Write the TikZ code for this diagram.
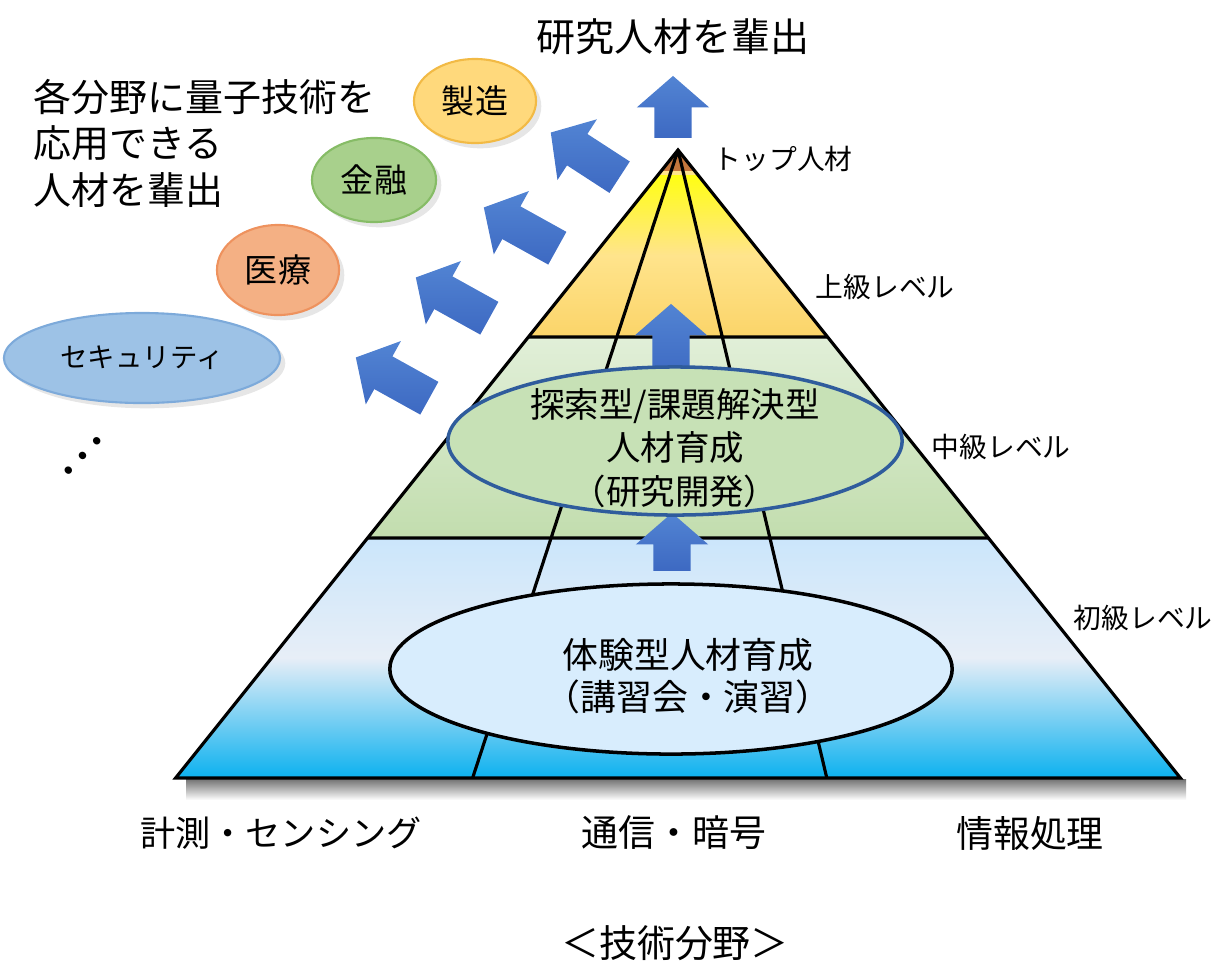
\documentclass[tikz,border=0pt]{standalone}
\usepackage{fontspec}
\setmainfont{Noto Sans CJK JP}
\usepackage{tikz}
\usetikzlibrary{
    shapes.geometric,
    shapes.arrows,
    shadows
}
\definecolor{arrowlight}{HTML}{5284D3}
\definecolor{arrowdark}{HTML}{3D69C2}
\definecolor{topbrown}{HTML}{C4763C}
\definecolor{upperyellow}{HTML}{FFFF10}
\definecolor{uppermid}{HTML}{FFE48C}
\definecolor{upperorange}{HTML}{FBD469}
\definecolor{midtop}{HTML}{E1EFD8}
\definecolor{midbottom}{HTML}{C2DDAE}
\definecolor{lowtop}{HTML}{CBE6FB}
\definecolor{lowmid}{HTML}{E7EEF7}
\definecolor{lowbottom}{HTML}{0CB1EF}
\definecolor{ellgreen}{HTML}{C7E1B6}
\definecolor{ellborder}{HTML}{2F5C9C}
\definecolor{ellblue}{HTML}{D8EDFD}
\definecolor{makefill}{HTML}{FFD97C}
\definecolor{makeline}{HTML}{F2BA45}
\definecolor{finfill}{HTML}{A8D08C}
\definecolor{finline}{HTML}{86BC66}
\definecolor{medfill}{HTML}{F4B084}
\definecolor{medline}{HTML}{EE925E}
\definecolor{secfill}{HTML}{9DC2E6}
\definecolor{secline}{HTML}{7DAADA}
\tikzset{
    edge/.style = {
        line width=0.9pt,
        black
    },
    bluearrow/.style = {
        single arrow,
        anchor=tip,
        top color=arrowlight,
        bottom color=arrowdark,
        draw=none,
        inner xsep=0pt,
        inner ysep=0.18cm,
        single arrow head extend=0.175cm,
        single arrow tip angle=98
    },
    fieldbox/.style = {
        ellipse,
        inner sep=0pt,
        line width=0.6pt,
        font=\fontsize{9.4pt}{11pt}\selectfont,
        drop shadow={shadow xshift=1.5pt, shadow yshift=-1.5pt, opacity=0.2}
    },
    levelell/.style = {
        ellipse,
        inner sep=0pt,
        line width=1pt
    },
    leveltext/.style = {
        align=center,
        inner sep=0pt,
        font=\fontsize{9.8pt}{12.3pt}\selectfont
    },
    levellabel/.style = {
        anchor=west,
        inner sep=0pt,
        font=\fontsize{7.9pt}{9pt}\selectfont
    },
    techlabel/.style = {
        inner sep=0pt,
        font=\fontsize{10.5pt}{12pt}\selectfont
    }
}
\begin{document}
\begin{tikzpicture}[x=0.01cm, y=-0.01cm]
\useasboundingbox (0,0) rectangle (1224,978);

\coordinate (apex) at (678,150);
\coordinate (tl) at (659.6,173);
\coordinate (tr) at (696.4,173);
\coordinate (ul) at (528.4,337);
\coordinate (ur) at (827.6,337);
\coordinate (ml) at (367.6,538);
\coordinate (mr) at (988.4,538);
\coordinate (bl) at (175.6,778);
\coordinate (br) at (1180.4,778);
\coordinate (sl) at (472.6,778);
\coordinate (sr) at (826.8,778);

\shade [top color=black!55, bottom color=white] (186,779) rectangle (1186,800);
\fill [topbrown] (apex) -- (tr) -- (tl) -- cycle;
\shade [top color=upperyellow, bottom color=upperorange, middle color=uppermid] (tl) -- (tr) -- (ur) -- (ul) -- cycle;
\shade [top color=midtop, bottom color=midbottom] (ul) -- (ur) -- (mr) -- (ml) -- cycle;
\shade [top color=lowtop, bottom color=lowbottom, middle color=lowmid] (ml) -- (mr) -- (br) -- (bl) -- cycle;
\draw [line width=1.2pt, color=uppermid] (tl) -- (tr);
\draw [edge] (apex) -- (bl) -- (br) -- cycle;
\draw [edge] (ul) -- (ur) (ml) -- (mr) (apex) -- (sl) (apex) -- (sr);

\node (upmid) [bluearrow, rotate=90, minimum height=0.75cm] at (671,303) {};
\node (uplow) [bluearrow, rotate=90, minimum height=0.58cm] at (672,512) {};

\node (midell) [levelell, draw=ellborder, fill=ellgreen, minimum width=4.54cm, minimum height=1.48cm] at (675,441) {};
\node (midtxt) [leveltext] at (675,448) {探索型/課題解決型\\人材育成\\（研究開発）};
\node (lowell) [levelell, draw=black, fill=ellblue, minimum width=5.62cm, minimum height=1.70cm] at (671,669) {};
\node (lowtxt) [leveltext, font=\fontsize{10.2pt}{12pt}\selectfont] at (688,676) {体験型人材育成\\（講習会・演習）};

\node (uptop) [bluearrow, rotate=90, minimum height=0.62cm] at (673,75) {};
\node (diag1) [bluearrow, rotate=151, minimum height=0.84cm] at (355,357) {};
\node (diag2) [bluearrow, rotate=151, minimum height=0.84cm] at (415,277) {};
\node (diag3) [bluearrow, rotate=151, minimum height=0.84cm] at (483,207) {};
\node (diag4) [bluearrow, rotate=147, minimum height=0.82cm] at (550,132) {};

\node (manufacture) [fieldbox, draw=makeline, fill=makefill, minimum width=1.22cm, minimum height=0.84cm] at (475,101) {製造};
\node (finance) [fieldbox, draw=finline, fill=finfill, minimum width=1.24cm, minimum height=0.84cm] at (374,180) {金融};
\node (medical) [fieldbox, draw=medline, fill=medfill, minimum width=1.22cm, minimum height=0.90cm] at (278,270) {医療};
\node (security) [fieldbox, draw=secline, fill=secfill, minimum width=2.76cm, minimum height=0.90cm, font=\fontsize{7.8pt}{9pt}\selectfont] at (142,358) {セキュリティ};
\node (moredots) [inner sep=0pt, rotate=46, font=\fontsize{15.5pt}{16pt}\selectfont] at (82,457) {…};

\node (applytxt) [anchor=west, align=left, inner sep=0pt, font=\fontsize{10.8pt}{13.2pt}\selectfont] at (33,143) {各分野に量子技術を\\応用できる\\人材を輩出};
\node (headtxt) [inner sep=0pt, font=\fontsize{11.1pt}{13pt}\selectfont] at (673,37) {研究人材を輩出};

\node (toplbl) [levellabel] at (713,159) {トップ人材};
\node (upperlbl) [levellabel] at (815,287) {上級レベル};
\node (midlbl) [levellabel] at (931,447) {中級レベル};
\node (lowlbl) [levellabel] at (1073,618) {初級レベル};

\node (sensing) [techlabel, font=\fontsize{10pt}{12pt}\selectfont] at (281,833) {計測・センシング};
\node (comm) [techlabel] at (674,833) {通信・暗号};
\node (infoproc) [techlabel] at (1030,833) {情報処理};
\node (fieldtitle) [techlabel, font=\fontsize{10.8pt}{12pt}\selectfont] at (675,943) {＜技術分野＞};
\end{tikzpicture}
\end{document}
